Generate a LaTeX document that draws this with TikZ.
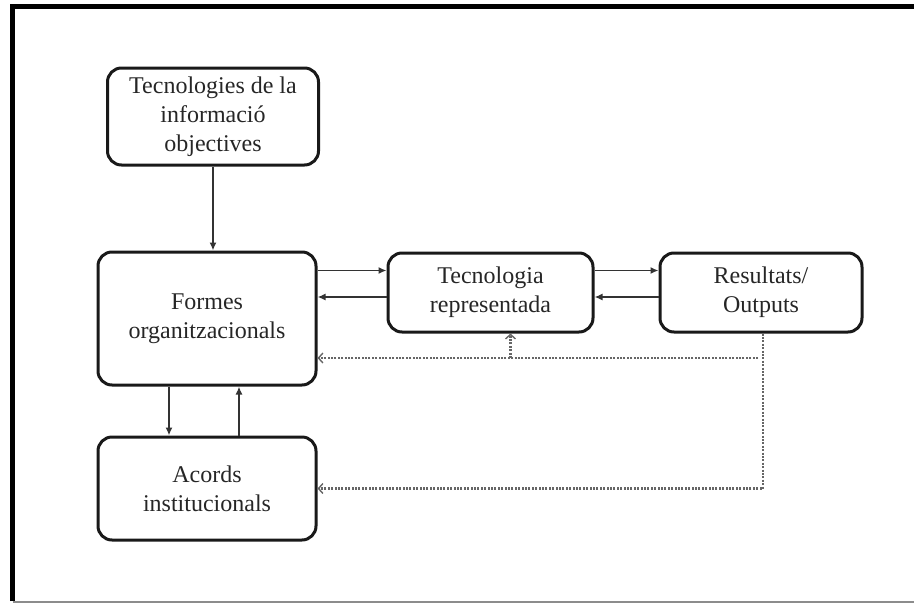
\documentclass[tikz,border=0pt]{standalone}
\usepackage{fontspec}
\setmainfont{Liberation Serif}
\usetikzlibrary{arrows.meta}
\begin{document}
\begin{tikzpicture}[x=1pt,y=-1pt,
  box/.style={draw=black!90,line width=3pt,rounded corners=14pt,align=center,
    font=\fontsize{24}{29}\selectfont,text=black!85,inner sep=0pt},
  arr/.style={draw=black!80,line width=1.7pt,-{Latex[length=8pt,width=7pt]}},
  fb/.style={draw=black!60,line width=2.4pt,dash pattern=on 2pt off 1.4pt,
    -{Straight Barb[length=4.5pt,width=10pt,line width=1.4pt]}}]
  % page area and frame
  \useasboundingbox (0,0) rectangle (914,603);
  \draw[line width=5pt,black] (12.5,601) -- (12.5,6) -- (914,6);
  \draw[line width=2pt,black!45] (12.5,601.5) -- (914,601.5);

  % boxes
  \node[box,minimum width=211pt,minimum height=97pt] (tic) at (213,116.5)
    {Tecnologies de la\\informació\\objectives};
  \node[box,minimum width=218pt,minimum height=133pt] (form) at (207,318.5)
    {Formes\\organitzacionals};
  \node[box,minimum width=205pt,minimum height=79pt] (tec) at (490.5,292.5)
    {Tecnologia\\representada};
  \node[box,minimum width=202pt,minimum height=79pt] (res) at (761,292.5)
    {Resultats/\\Outputs};
  \node[box,minimum width=218pt,minimum height=103pt] (acords) at (207,488.5)
    {Acords\\institucionals};

  % solid connectors
  \draw[arr] (tic.south) -- (tic.south |- form.north);
  \draw[arr] ([yshift=22pt]tec.west -| form.east) -- ([yshift=22pt]tec.west);
  \draw[arr] ([yshift=-4.5pt]tec.west) -- ([yshift=-4.5pt]tec.west -| form.east);
  \draw[arr] ([yshift=22pt]res.west -| tec.east) -- ([yshift=22pt]res.west);
  \draw[arr] ([yshift=-4.5pt]res.west) -- ([yshift=-4.5pt]res.west -| tec.east);
  \draw[arr] ([xshift=-38pt]form.south) -- ([xshift=-38pt]form.south |- acords.north);
  \draw[arr] ([xshift=32pt]form.south |- acords.north) -- ([xshift=32pt]form.south);

  % dotted feedback connectors
  \coordinate (fbr) at ([xshift=-3pt,yshift=-39.5pt]form.east -| res.south);
  \coordinate (fbt) at ([xshift=20pt]tec.south |- fbr);
  \draw[fb] ([xshift=2pt]res.south) |- (acords.east);
  \draw[fb] (fbr) -- ([yshift=-39.5pt]form.east);
  \draw[fb] (fbt) -- ([xshift=20pt]tec.south);
\end{tikzpicture}
\end{document}
